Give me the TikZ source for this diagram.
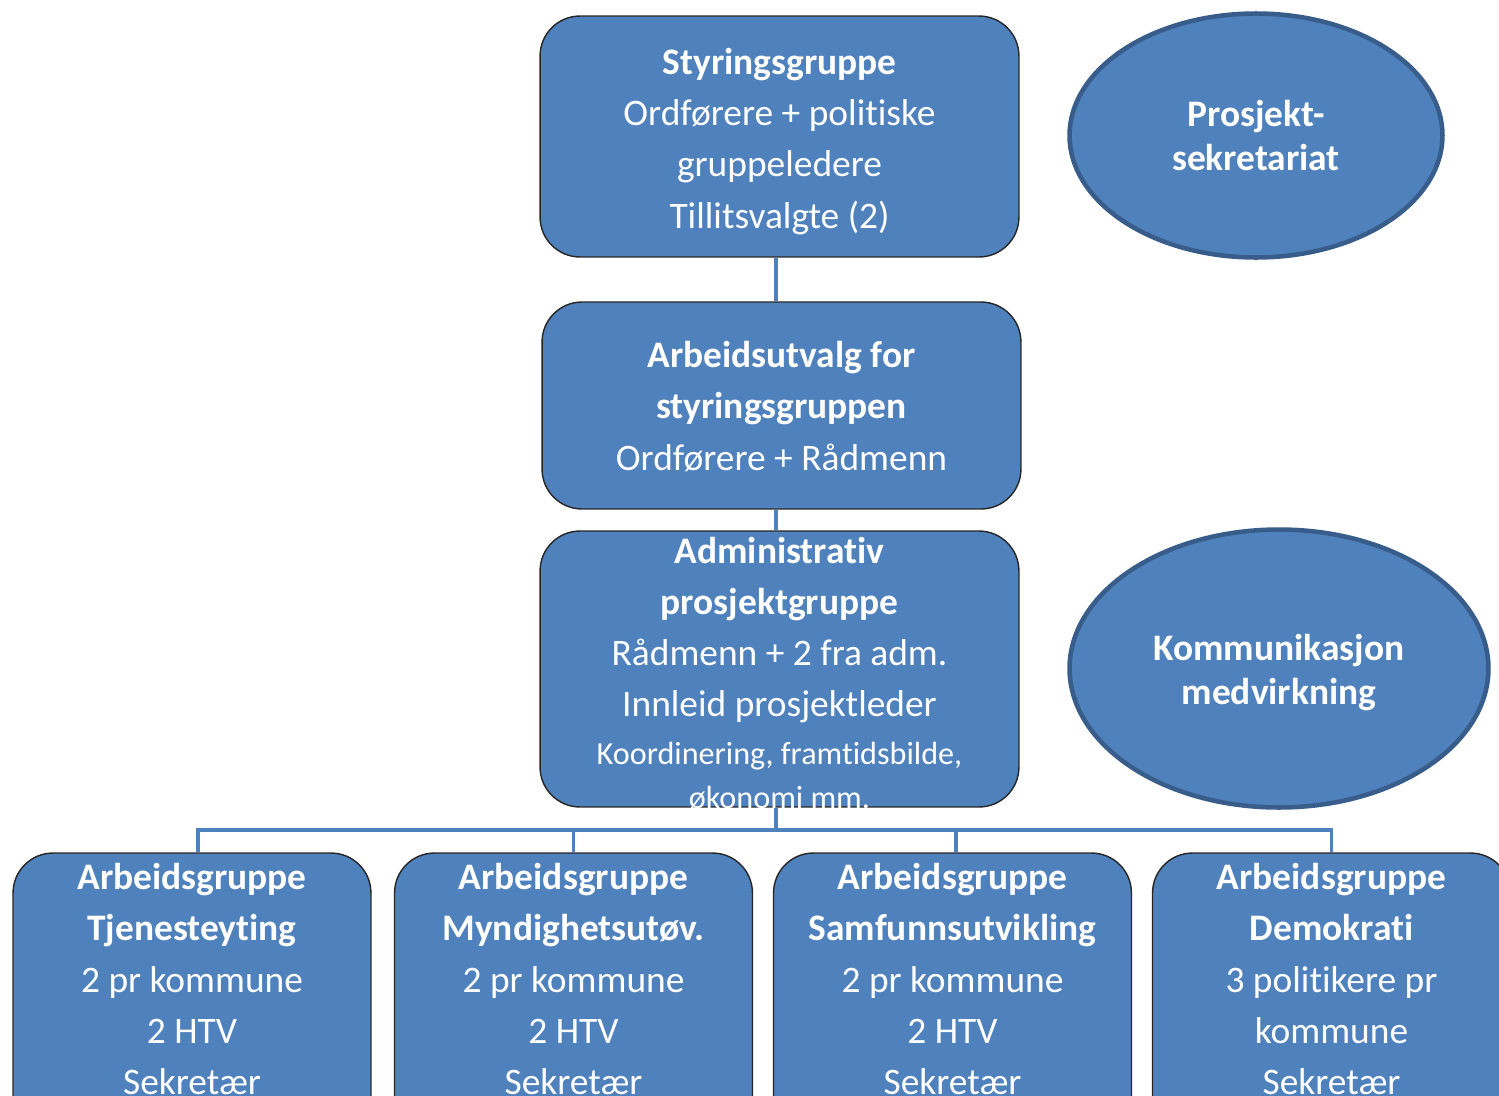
\documentclass[tikz,border=0pt]{standalone}
\usepackage{fontspec}
\setmainfont{Carlito}[Ligatures=NoCommon]
\usetikzlibrary{shapes.geometric}
\definecolor{boxblue}{HTML}{4F81BD}
\definecolor{rimblue}{HTML}{385D8A}
\definecolor{rimdark}{HTML}{262626}
\newcommand{\bigtxt}{\fontsize{21.3pt}{29.1pt}\selectfont}
\newcommand{\smalltxt}{\fontsize{18.3pt}{25pt}\selectfont}
\begin{document}
\begin{tikzpicture}[x=0.02cm,y=-0.02cm,
  gruppe/.style={draw=rimdark,line width=0.8pt,fill=boxblue,rounded corners=0.8cm,minimum width=9.58cm,inner sep=0pt},
  arbgr/.style={gruppe,minimum width=7.16cm,minimum height=6cm},
  sirkel/.style={ellipse,draw=rimblue,line width=2.6pt,fill=boxblue,inner sep=0pt,text=white,align=center,font=\fontsize{21.3pt}{25.5pt}\selectfont\bfseries},
  tekst/.style={text=white,align=center,font=\bigtxt,inner sep=0pt},
  linje/.style={draw=boxblue,line width=2.2pt}]
\path[use as bounding box] (0,0) rectangle (1499,1096);
\clip (0,0) rectangle (1499,1096);

% styring
\node[gruppe,minimum height=4.82cm] (styr) at (779.5,136.5) {};
\node[tekst] (styr-t) at (779.5,141.5) {\textbf{Styringsgruppe}\\ Ordførere + politiske\\ gruppeledere\\ Tillitsvalgte (2)};

\node[gruppe,minimum height=4.14cm] (au) at (781.5,405.5) {};
\node[tekst] (au-t) at (781.5,406.5) {\textbf{Arbeidsutvalg for}\\ \textbf{styringsgruppen}\\ Ordførere + Rådmenn};

\node[gruppe,minimum height=5.52cm] (adm) at (779.5,669) {};
\node[tekst] (adm-t) at (779.5,673) {\textbf{Administrativ}\\ \textbf{prosjektgruppe}\\ Rådmenn + 2 fra adm.\\ Innleid prosjektleder\\[-1.9pt] {\smalltxt Koordinering, framtidsbilde,}\\[-4.2pt] {\smalltxt økonomi mm.}};

% ellipser
\node[sirkel,minimum width=7.46cm,minimum height=4.88cm] (sekr) at (1256,135.5) {Prosjekt-\\ sekretariat};
\node[sirkel,minimum width=8.38cm,minimum height=5.56cm] (komm) at (1279,668.5) {\rule{0pt}{19.5pt}Kommunikasjon\\ medvirkning};

% arbeidsgrupper
\node[arbgr] (tj) at (192,1003) {};
\node[arbgr] (myn) at (573.5,1003) {};
\node[arbgr] (samf) at (952.5,1003) {};
\node[arbgr] (demo) at (1331.5,1003) {};
\node[tekst] (tj-t) at (192,979) {\textbf{Arbeidsgruppe}\\ \textbf{Tjenesteyting}\\ 2 pr kommune\\ 2 HTV\\ Sekretær};
\node[tekst] (myn-t) at (573.5,979) {\textbf{Arbeidsgruppe}\\ \textbf{Myndighetsutøv.}\\ 2 pr kommune\\ 2 HTV\\ Sekretær};
\node[tekst] (samf-t) at (952.5,979) {\textbf{Arbeidsgruppe}\\ \textbf{Samfunnsutvikling}\\ 2 pr kommune\\ 2 HTV\\ Sekretær};
\node[tekst] (demo-t) at (1331.5,979) {\textbf{Arbeidsgruppe}\\ \textbf{Demokrati}\\ 3 politikere pr\\ kommune\\ Sekretær};

% linjer
\coordinate (bus) at (776,830);
\draw[linje] (styr.south -| bus) -- (au.north -| bus);
\draw[linje] (au.south -| bus) -- (adm.north -| bus);
\draw[linje] (adm.south -| bus) -- (bus);
\draw[linje] ([xshift=0.12cm]tj.north) |- (bus) -| (demo.north);
\draw[linje] (myn.north) -- (myn.north |- bus);
\draw[linje] ([xshift=0.07cm]samf.north) -- ([xshift=0.07cm]samf.north |- bus);
\end{tikzpicture}
\end{document}
